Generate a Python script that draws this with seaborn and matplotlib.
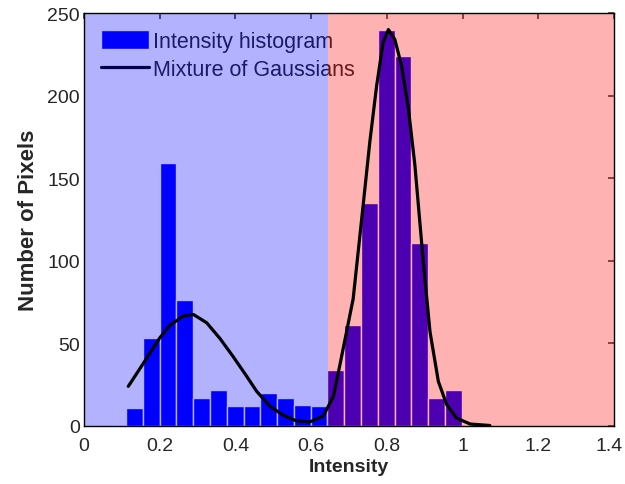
import numpy as np
import pandas as pd
import matplotlib
matplotlib.use("Agg")
import matplotlib.pyplot as plt
import matplotlib.transforms as mtransforms
import seaborn as sns

# ---- data ----
hist_lo = 0.111          # left edge of first bin
hist_hi = 0.998          # right edge of last bin
counts = [11, 53, 159, 76, 17, 22, 12, 12, 20, 17, 13, 12,
          34, 61, 135, 240, 224, 111, 17, 22]
threshold = 0.645        # boundary between the two shaded classes

curve_x = [0.117, 0.157, 0.199, 0.227, 0.262, 0.289, 0.324, 0.359, 0.394,
           0.430, 0.456, 0.491, 0.526, 0.562, 0.597, 0.632, 0.659, 0.676,
           0.711, 0.738, 0.755, 0.773, 0.790, 0.804, 0.821, 0.839, 0.857,
           0.874, 0.896, 0.914, 0.936, 0.958, 0.984, 1.020, 1.072]
curve_y = [24, 38, 53, 61, 66.5, 67.5, 62.5, 53, 42,
           30, 21, 12, 6.5, 3, 2.5, 6, 18, 37,
           77, 135, 172, 206, 232, 240, 234, 218, 192,
           158, 100, 57, 27, 13, 4.8, 1.2, 0.3]

x_ticks = [0, 0.2, 0.4, 0.6, 0.8, 1.0, 1.2, 1.4]
y_ticks = [0, 50, 100, 150, 200, 250]
x_label = "Intensity"
y_label = "Number of Pixels"
legend_labels = ["Intensity histogram", "Mixture of Gaussians"]

# ---- build tables ----
edges = np.linspace(hist_lo, hist_hi, len(counts) + 1)
centers = (edges[:-1] + edges[1:]) / 2
hist_df = pd.DataFrame({"intensity": centers, "count": counts})
curve_df = pd.DataFrame({"intensity": curve_x, "pixels": curve_y})

sns.set_theme(style="white")
plt.rcParams["font.family"] = ["Liberation Sans", "DejaVu Sans"]

fig = plt.figure(figsize=(6.25, 4.85), dpi=100)
ax = fig.add_axes([0.1344, 0.1196, 0.848, 0.8515])

sns.histplot(data=hist_df, x="intensity", weights="count",
             bins=[float(e) for e in edges],
             color=(0, 0, 1), alpha=1.0, edgecolor="white", linewidth=1.0,
             ax=ax, zorder=2, label=legend_labels[0])
sns.lineplot(data=curve_df, x="intensity", y="pixels", sort=False,
             color="black", linewidth=2.3, ax=ax, zorder=10,
             label=legend_labels[1])

ax.axvspan(0, threshold, color=(0, 0, 1), alpha=0.3, lw=0, zorder=5)
ax.axvspan(threshold, 1.4, color=(1, 0, 0), alpha=0.3, lw=0, zorder=5)

ax.set_xlim(0, 1.4)
ax.set_ylim(0, 250)
ax.set_xticks(x_ticks)
ax.set_xticklabels([f"{t:g}" for t in x_ticks])
ax.set_yticks(y_ticks)
ax.tick_params(axis="both", which="both", direction="in", length=4,
               top=True, right=True, labelsize=14, color="#444444")
ax.tick_params(axis="x", pad=8)
ax.tick_params(axis="y", pad=3)

# nudge the last x tick label so it stays inside the figure
last = ax.get_xticklabels()[-1]
last.set_transform(last.get_transform() +
                   mtransforms.ScaledTranslation(-5 / 100, 0, fig.dpi_scale_trans))

ax.set_xlabel(x_label, fontsize=14, fontweight="bold", labelpad=3)
ax.set_ylabel(y_label, fontsize=16, fontweight="bold", labelpad=6)

for sp in ax.spines.values():
    sp.set_color("black")
    sp.set_linewidth(1.0)
    sp.set_zorder(6)

handles, labels = ax.get_legend_handles_labels()
order = [labels.index(l) for l in legend_labels]
leg = ax.legend([handles[i] for i in order], [labels[i] for i in order],
                loc="upper left", frameon=False, fontsize=15.5,
                handlelength=2.2, handleheight=0.95, handletextpad=0.2,
                labelspacing=0.3, borderaxespad=0.45, borderpad=0.35)
leg.set_zorder(1)

fig.savefig("out.png", dpi=100)
